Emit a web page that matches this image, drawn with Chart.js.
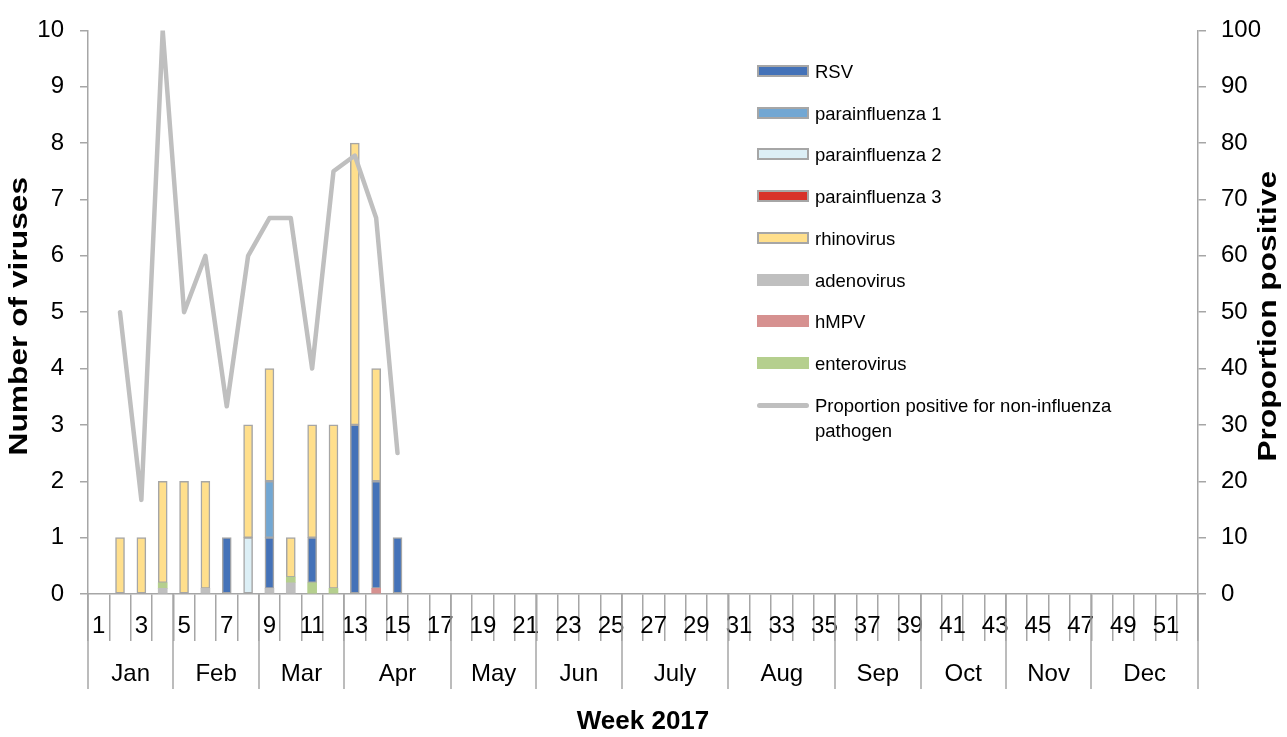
<!DOCTYPE html>
<html>
<head>
<meta charset="utf-8">
<script src="https://cdn.jsdelivr.net/npm/chart.js@4.4.1/dist/chart.umd.min.js"></script>
<style>
  body { margin: 0; background: #fff; }
  #wrap { position: relative; width: 1287px; height: 737px; }
  #legend { position: absolute; left: 757px; top: 0; font: 18.5px Arial, "Liberation Sans", sans-serif; color: #000; }
  .item { position: absolute; left: 0; display: flex; align-items: flex-start; line-height: 25px; white-space: nowrap; }
  .item span.txt { margin-left: 6px; }
  .item.wrap span.txt { white-space: normal; width: 305px; }
  .sw { width: 52px; box-sizing: border-box; margin-top: 6px; }
</style>
</head>
<body>
<div id="wrap">
  <canvas id="virusChart" width="1287" height="737"></canvas>
  <div id="legend"></div>
</div>
<script>
const weeks = Array.from({ length: 52 }, (_, i) => String(i + 1));
const months = ["Jan", "Feb", "Mar", "Apr", "May", "Jun", "July", "Aug", "Sep", "Oct", "Nov", "Dec"];
const monthWeeks = [4, 4, 4, 5, 4, 4, 5, 5, 4, 4, 4, 5];

// virus counts for weeks 1-15, nothing reported after that
const rsv    = [0, 0, 0, 0,   0, 0,   1, 0, 0.9, 0,   0.8, 0,   3, 1.9, 1];
const para1  = [0, 0, 0, 0,   0, 0,   0, 0, 1,   0,   0,   0,   0, 0,   0];
const para2  = [0, 0, 0, 0,   0, 0,   0, 1, 0,   0,   0,   0,   0, 0,   0];
const para3  = [0, 0, 0, 0,   0, 0,   0, 0, 0,   0,   0,   0,   0, 0,   0];
const rhino  = [0, 1, 1, 1.8, 2, 1.9, 0, 2, 2,   0.7, 2,   2.9, 5, 2,   0];
const adeno  = [0, 0, 0, 0.1, 0, 0.1, 0, 0, 0.1, 0.2, 0,   0,   0, 0,   0];
const hmpv   = [0, 0, 0, 0,   0, 0,   0, 0, 0,   0,   0,   0,   0, 0.1, 0];
const entero = [0, 0, 0, 0.1, 0, 0,   0, 0, 0,   0.1, 0.2, 0.1, 0, 0,   0];

// % of samples positive for a non-influenza pathogen
const propPositive = [null, 50, 16.7, 100, 50, 60, 33.3, 60, 66.7, 66.7, 40, 75, 77.8, 66.7, 25];

const axisColor = "#A6A6A6";
const fontFamily = 'Arial, "Liberation Sans", sans-serif';

const pad = (arr) => weeks.map((_, i) => (arr[i] ? arr[i] : null));

function barSet(label, data, color, outlined) {
    return {
        type: "bar",
        label: label,
        data: pad(data),
        backgroundColor: color,
        borderColor: axisColor,
        borderWidth: outlined ? 1.5 : 0,
        borderSkipped: false,
        barThickness: 9,
        yAxisID: "y",
        stack: "viruses",
    };
}

// bottom-to-top stacking order
const datasets = [
    barSet("adenovirus", adeno, "#BFBFBF", false),
    barSet("hMPV", hmpv, "#D69190", false),
    barSet("enterovirus", entero, "#B5CF8E", false),
    barSet("RSV", rsv, "#4472B8", true),
    barSet("parainfluenza 1", para1, "#72A7D3", true),
    barSet("parainfluenza 2", para2, "#DCEFF6", true),
    barSet("parainfluenza 3", para3, "#D8322A", true),
    barSet("rhinovirus", rhino, "#FFDF8C", true),
    {
        type: "line",
        label: "Proportion positive for non-influenza pathogen",
        data: weeks.map((_, i) => (propPositive[i] === undefined ? null : propPositive[i])),
        borderColor: "#BFBFBF",
        borderWidth: 4.5,
        borderJoinStyle: "round",
        borderCapStyle: "round",
        pointRadius: 0,
        tension: 0,
        fill: false,
        yAxisID: "y1",
        order: -1,
    },
];

const legendOrder = ["RSV", "parainfluenza 1", "parainfluenza 2", "parainfluenza 3", "rhinovirus",
    "adenovirus", "hMPV", "enterovirus", "Proportion positive for non-influenza pathogen"];

const titleFontCss = "bold 26px " + fontFamily;

// rotated y titles, both reading upwards and a bit drawn out lengthwise
function drawYTitle(ctx, text, x, y) {
    ctx.save();
    ctx.translate(x, y);
    ctx.rotate(-Math.PI / 2);
    ctx.scale(1.22, 1);
    ctx.fillStyle = "#000";
    ctx.font = titleFontCss;
    ctx.textAlign = "center";
    ctx.textBaseline = "middle";
    ctx.fillText(text, 0, 0);
    ctx.restore();
}

// month separators below the week row, plus the two y titles
const monthLines = {
    id: "monthLines",
    afterDraw(chart) {
        const { ctx, chartArea, scales } = chart;
        const xm = scales.xm;
        ctx.save();
        ctx.strokeStyle = axisColor;
        ctx.lineWidth = 1.5;
        let edge = 0;
        [0].concat(monthWeeks).forEach((n) => {
            edge += n;
            const x = Math.round(xm.getPixelForValue(edge));
            ctx.beginPath();
            ctx.moveTo(x, chartArea.bottom);
            ctx.lineTo(x, xm.top + 39);
            ctx.stroke();
        });
        ctx.restore();

        const midY = (chartArea.top + chartArea.bottom) / 2 + 4;
        drawYTitle(ctx, scales.y.options.title.text, scales.y.left + 20, midY);
        drawYTitle(ctx, scales.y1.options.title.text, scales.y1.right - 18, midY);
    },
};

const tickFont = { family: fontFamily, size: 24 };
const titleFont = { family: fontFamily, size: 26, weight: "bold" };

let edgeSum = 0;
const monthCenters = monthWeeks.map((n) => {
    const c = edgeSum + n / 2;
    edgeSum += n;
    return c;
});

const chart = new Chart(document.getElementById("virusChart"), {
    data: { labels: weeks, datasets: datasets },
    plugins: [monthLines],
    options: {
        responsive: false,
        animation: false,
        layout: { padding: { top: 24, left: 0, right: 0, bottom: 0 } },
        plugins: {
            legend: { display: false },
            tooltip: { enabled: false },
        },
        scales: {
            x: {
                type: "category",
                position: "bottom",
                weight: 0,
                offset: true,
                grid: {
                    offset: true,
                    drawOnChartArea: false,
                    drawTicks: true,
                    tickLength: 47,
                    color: axisColor,
                    lineWidth: 1.5,
                },
                border: { display: true, color: axisColor, width: 1.5 },
                ticks: {
                    autoSkip: false,
                    maxRotation: 0,
                    minRotation: 0,
                    padding: -29,
                    color: "#000",
                    font: tickFont,
                    callback: (value, index) => (index % 2 === 0 ? weeks[index] : ""),
                },
                afterFit: (scale) => { scale.height = 56; },
            },
            xm: {
                type: "linear",
                position: "bottom",
                weight: 1,
                min: 0,
                max: 52,
                grid: { display: false, drawTicks: false },
                border: { display: false },
                afterBuildTicks: (scale) => {
                    scale.ticks = monthCenters.map((v) => ({ value: v }));
                },
                ticks: {
                    autoSkip: false,
                    maxRotation: 0,
                    minRotation: 0,
                    padding: 10,
                    color: "#000",
                    font: tickFont,
                    callback: (value, index) => months[index],
                },
                title: {
                    display: true,
                    text: "Week 2017",
                    color: "#000",
                    font: titleFont,
                    padding: { top: 0, bottom: 0 },
                },
                afterFit: (scale) => { scale.height = 87; },
            },
            y: {
                position: "left",
                stacked: true,
                min: 0,
                max: 10,
                ticks: { stepSize: 1, padding: 16, color: "#000", font: tickFont },
                grid: { drawOnChartArea: false, tickLength: 8, color: axisColor, lineWidth: 1.5 },
                border: { display: true, color: axisColor, width: 1.5 },
                title: { display: false, text: "Number of viruses" },
                afterFit: (scale) => { scale.width = 88; },
            },
            y1: {
                position: "right",
                min: 0,
                max: 100,
                ticks: { stepSize: 10, padding: 15, color: "#000", font: tickFont },
                grid: { drawOnChartArea: false, tickLength: 8, color: axisColor, lineWidth: 1.5 },
                border: { display: true, color: axisColor, width: 1.5 },
                title: { display: false, text: "Proportion positive" },
                afterFit: (scale) => { scale.width = 89; },
            },
        },
    },
});

// legend list built from the datasets
const legendEl = document.getElementById("legend");
legendOrder.forEach((name, i) => {
    const ds = chart.data.datasets.find((d) => d.label === name);
    const item = document.createElement("div");
    item.className = "item";
    item.style.top = (59 + i * 41.7) + "px";
    const sw = document.createElement("div");
    sw.className = "sw";
    if (ds.type === "line") {
        sw.style.height = "5px";
        sw.style.marginTop = "10px";
        sw.style.borderRadius = "3px";
        sw.style.background = ds.borderColor;
        item.classList.add("wrap");
    } else {
        sw.style.height = "12px";
        sw.style.background = ds.backgroundColor;
        if (ds.borderWidth) sw.style.border = "2px solid " + ds.borderColor;
    }
    const txt = document.createElement("span");
    txt.className = "txt";
    txt.textContent = name;
    item.appendChild(sw);
    item.appendChild(txt);
    legendEl.appendChild(item);
});
</script>
</body>
</html>
